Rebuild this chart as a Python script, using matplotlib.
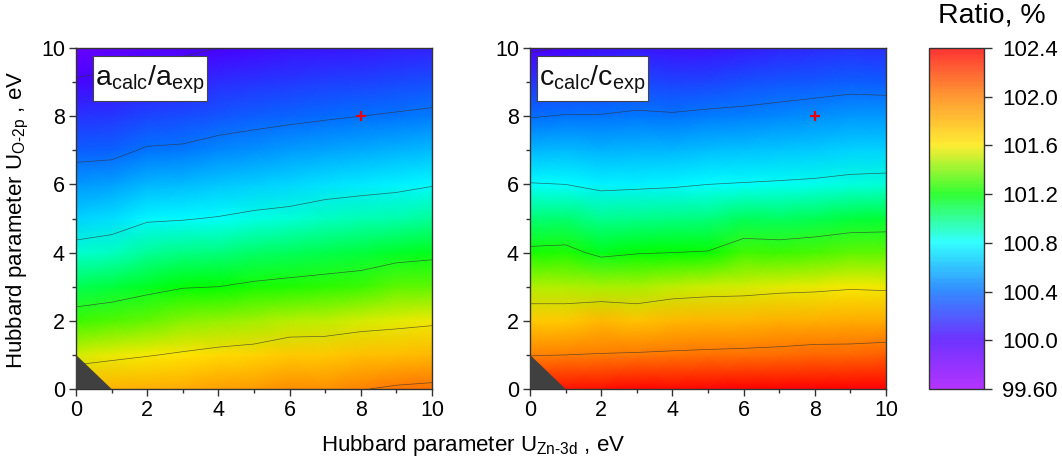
import numpy as np
import matplotlib
matplotlib.use('Agg')
import matplotlib.pyplot as plt
from matplotlib.colors import LinearSegmentedColormap, BoundaryNorm, Normalize
from matplotlib.cm import ScalarMappable
from matplotlib.patches import Polygon, Rectangle

plt.rcParams['font.family'] = ['Liberation Sans', 'DejaVu Sans']
plt.rcParams['mathtext.fontset'] = 'custom'
plt.rcParams['mathtext.rm'] = 'Liberation Sans'
plt.rcParams['mathtext.default'] = 'rm'

u_zn = [0, 1, 2, 3, 4, 5, 6, 7, 8, 9, 10]
u_o = [0, 1, 2, 3, 4, 5, 6, 7, 8, 9, 10]

# ratio values, one row per U_Zn, going up in U_O
ratio_a = [
    [101.77, 101.53, 101.29, 101.07, 100.87, 100.68, 100.51, 100.34, 100.18, 100.02, 99.86],
    [101.80, 101.56, 101.32, 101.10, 100.90, 100.71, 100.53, 100.35, 100.20, 100.05, 99.89],
    [101.82, 101.59, 101.36, 101.15, 100.96, 100.78, 100.60, 100.42, 100.25, 100.09, 99.93],
    [101.84, 101.62, 101.41, 101.19, 100.99, 100.79, 100.61, 100.43, 100.27, 100.12, 99.96],
    [101.88, 101.65, 101.43, 101.20, 101.00, 100.81, 100.64, 100.47, 100.31, 100.16, 100.00],
    [101.89, 101.67, 101.45, 101.23, 101.04, 100.84, 100.67, 100.49, 100.34, 100.18, 100.03],
    [101.95, 101.72, 101.49, 101.25, 101.06, 100.86, 100.69, 100.52, 100.36, 100.21, 100.06],
    [101.94, 101.72, 101.50, 101.27, 101.08, 100.90, 100.72, 100.55, 100.38, 100.23, 100.08],
    [101.99, 101.75, 101.53, 101.29, 101.10, 100.92, 100.74, 100.57, 100.40, 100.24, 100.09],
    [102.03, 101.76, 101.55, 101.34, 101.14, 100.93, 100.76, 100.59, 100.42, 100.26, 100.11],
    [102.05, 101.78, 101.57, 101.35, 101.16, 100.96, 100.79, 100.61, 100.44, 100.28, 100.12],
]
ratio_c = [
    [102.33, 101.99, 101.72, 101.48, 101.24, 101.02, 100.81, 100.60, 100.39, 100.18, 99.97],
    [102.34, 102.00, 101.72, 101.48, 101.25, 101.03, 100.80, 100.61, 100.41, 100.21, 100.01],
    [102.35, 102.01, 101.78, 101.46, 101.16, 100.97, 100.76, 100.59, 100.41, 100.23, 100.05],
    [102.38, 102.02, 101.74, 101.46, 101.19, 100.98, 100.77, 100.60, 100.43, 100.26, 100.09],
    [102.37, 102.03, 101.78, 101.50, 101.20, 100.99, 100.78, 100.60, 100.42, 100.24, 100.06],
    [102.38, 102.04, 101.79, 101.52, 101.21, 101.00, 100.80, 100.62, 100.44, 100.25, 100.07],
    [102.40, 102.05, 101.79, 101.53, 101.30, 101.06, 100.81, 100.63, 100.45, 100.28, 100.10],
    [102.39, 102.06, 101.81, 101.55, 101.29, 101.05, 100.82, 100.64, 100.47, 100.30, 100.13],
    [102.40, 102.08, 101.82, 101.56, 101.31, 101.07, 100.83, 100.66, 100.49, 100.32, 100.15],
    [102.40, 102.08, 101.83, 101.58, 101.34, 101.10, 100.85, 100.68, 100.51, 100.34, 100.17],
    [102.40, 102.10, 101.83, 101.57, 101.34, 101.11, 100.86, 100.68, 100.51, 100.33, 100.16],
]

levels = [100.0, 100.4, 100.8, 101.2, 101.6, 102.0]
cbar_ticks = [99.6, 100.0, 100.4, 100.8, 101.2, 101.6, 102.0, 102.4]
cbar_labels = ['99.60', '100.0', '100.4', '100.8', '101.2', '101.6', '102.0', '102.4']

W, H = 1062, 463
cmap = LinearSegmentedColormap.from_list('ratio', ['#a000ff', '#4800ff', '#0070ff', '#00ffff',
                                                   '#00ff00', '#ffe800', '#ff8000', '#ff0000'])
norm = Normalize(99.6, 102.4)


def add_axes(left, right, top, bottom):
    return fig.add_axes([left / W, 1 - bottom / H, (right - left) / W, (bottom - top) / H])


def draw_panel(ax, values, label, box):
    z = np.array(values).T
    ax.pcolormesh(u_zn, u_o, z, cmap=cmap, norm=norm, shading='gouraud', rasterized=True)
    ax.contour(u_zn, u_o, z, levels=levels, colors='#303030', linewidths=0.5, alpha=0.7)
    ax.add_patch(Polygon([(0, 0), (0, 1), (1, 0)], closed=True, color='#404040', lw=0, zorder=4))
    ax.plot([8], [8], marker='+', color='#e8000b', ms=7, mew=1.6, zorder=5)
    ax.set_xlim(0, 10)
    ax.set_ylim(0, 10)
    ax.set_xticks([0, 2, 4, 6, 8, 10])
    ax.set_yticks([0, 2, 4, 6, 8, 10])
    ax.set_xticks([1, 3, 5, 7, 9], minor=True)
    ax.set_yticks([1, 3, 5, 7, 9], minor=True)
    ax.tick_params(which='major', length=5, width=1, color='#333333', labelsize=15.5, pad=3)
    ax.tick_params(which='minor', length=3, width=1, color='#333333')
    for s in ax.spines.values():
        s.set_color('#333333')
        s.set_linewidth(1)
    ax.add_patch(Rectangle((box[0], box[1]), box[2], box[3], transform=ax.transAxes,
                           fc='white', ec='#444444', lw=0.8, zorder=6))
    ax.text(box[0] + box[2] / 2, box[1] + box[3] / 2 - 0.005, label, transform=ax.transAxes,
            ha='center', va='center', fontsize=20.5, color='#111111', zorder=7)


fig = plt.figure(figsize=(W / 100, H / 100), dpi=100)

ax1 = add_axes(76, 432, 48, 389)
ax2 = add_axes(530, 886, 48, 389)
draw_panel(ax1, ratio_a, r'a$_{calc}$/a$_{exp}$', (0.048, 0.845, 0.32, 0.132))
draw_panel(ax2, ratio_c, r'c$_{calc}$/c$_{exp}$', (0.02, 0.845, 0.311, 0.132))

fig.text(18 / W, 1 - 220 / H, r'Hubbard parameter U$_{O\text{-}2p}$ , eV', rotation=90,
         ha='center', va='center', fontsize=16)
fig.text(473 / W, 1 - 445 / H, r'Hubbard parameter U$_{Zn\text{-}3d}$ , eV',
         ha='center', va='center', fontsize=16)

# colour scale, paler than the maps and split in narrow bands
cax = add_axes(929, 984, 48, 389)
bands = np.arange(99.6, 102.4001, 0.02)
cb = fig.colorbar(ScalarMappable(norm=BoundaryNorm(bands, 256), cmap=cmap), cax=cax,
                  spacing='uniform', drawedges=False, alpha=0.8)
cb.set_ticks(cbar_ticks, labels=cbar_labels)
cb.minorticks_off()
cax.tick_params(length=6, width=1, color='#333333', labelsize=16, pad=7)
cb.outline.set_edgecolor('#333333')
cb.outline.set_linewidth(1)
fig.text(992 / W, 1 - 16 / H, 'Ratio, %', ha='center', va='center', fontsize=20.5)

fig.savefig('out.png', dpi=100)
